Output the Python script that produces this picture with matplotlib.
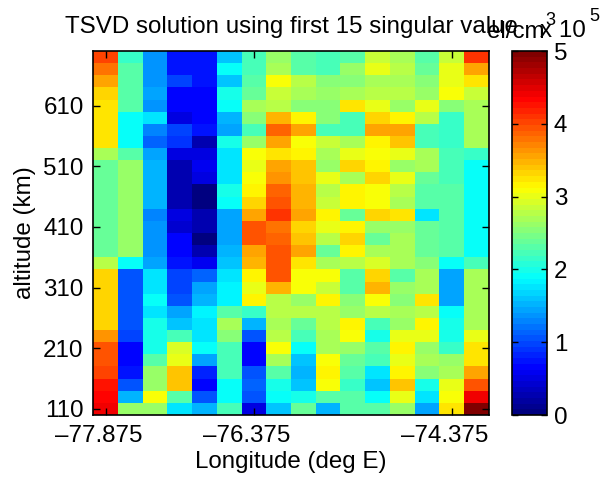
import numpy as np
import matplotlib
matplotlib.use("Agg")
import matplotlib.pyplot as plt
import matplotlib.transforms as mtransforms
from matplotlib.colors import LinearSegmentedColormap

plt.rcParams["font.family"] = ["Liberation Sans", "DejaVu Sans"]
FS = 17.4

# grid centres
longitude = np.arange(-77.875, -74.0, 0.25)      # 16 columns (deg E)
altitude = np.arange(690, 100, -20)               # 30 rows, top to bottom (km)

xtick_vals = [-77.875, -76.375, -74.375]
xtick_text = ["\u201377.875", "\u201376.375", "\u201374.375"]
ytick_vals = [110, 210, 310, 410, 510, 610]

# electron density, units of 1e5 el/cm^3, rows from 690 km down to 110 km
density = [
    [4.06, 2.11, 1.33, 0.78, 0.78, 1.64, 2.19, 2.64, 2.34, 2.19, 2.34, 2.89, 2.66, 2.34, 2.89, 4.14],
    [3.75, 2.27, 1.33, 0.78, 0.78, 1.88, 2.19, 2.66, 2.34, 2.19, 2.58, 2.97, 2.81, 2.42, 2.97, 3.52],
    [3.52, 2.27, 1.33, 0.94, 0.78, 1.64, 2.34, 3.05, 2.81, 2.50, 2.50, 2.73, 2.66, 2.50, 2.97, 3.24],
    [3.35, 2.27, 1.41, 0.70, 0.70, 2.03, 2.42, 2.89, 2.66, 2.58, 2.66, 2.81, 2.81, 2.58, 3.05, 2.89],
    [3.24, 2.27, 1.33, 0.70, 0.70, 1.88, 2.73, 2.81, 2.50, 2.50, 3.28, 2.97, 2.58, 2.97, 2.50, 2.66],
    [3.24, 1.88, 1.72, 0.47, 0.70, 1.56, 2.50, 3.48, 3.13, 2.50, 2.19, 3.31, 3.13, 2.81, 2.11, 2.66],
    [3.24, 1.88, 1.25, 0.94, 0.75, 1.48, 2.19, 3.83, 3.52, 2.19, 2.19, 3.59, 3.52, 2.19, 2.11, 2.66],
    [3.24, 1.88, 1.17, 0.86, 0.24, 2.03, 2.58, 3.52, 3.05, 2.89, 2.73, 3.13, 3.40, 2.19, 2.11, 2.66],
    [2.73, 2.34, 1.48, 0.50, 0.50, 1.72, 3.05, 3.28, 3.13, 2.73, 2.97, 3.05, 3.01, 2.73, 2.19, 2.11],
    [2.42, 2.58, 1.56, 0.24, 0.55, 1.76, 2.97, 3.59, 3.40, 2.58, 3.31, 3.13, 2.58, 2.73, 2.19, 1.88],
    [2.42, 2.58, 1.56, 0.24, 0.47, 1.76, 3.05, 3.67, 3.40, 3.01, 2.73, 3.35, 2.97, 2.42, 2.19, 1.88],
    [2.42, 2.58, 1.56, 0.24, 0.00, 2.03, 3.13, 3.83, 3.48, 2.81, 3.13, 3.05, 2.81, 2.34, 2.27, 1.88],
    [2.42, 2.58, 1.56, 0.24, 0.00, 1.88, 3.35, 3.91, 3.48, 2.89, 3.13, 3.05, 2.66, 2.34, 2.27, 1.88],
    [2.42, 2.58, 1.25, 0.50, 0.24, 1.41, 3.59, 4.14, 3.55, 3.13, 2.42, 3.31, 3.24, 1.76, 2.27, 1.88],
    [2.42, 2.58, 1.33, 0.42, 0.24, 1.41, 3.91, 3.75, 3.35, 2.97, 3.13, 2.58, 2.58, 2.42, 2.27, 1.88],
    [2.42, 2.58, 1.33, 0.70, 0.00, 1.48, 3.98, 3.83, 3.40, 2.81, 3.31, 2.42, 2.73, 2.42, 2.27, 1.88],
    [2.42, 2.58, 1.33, 0.70, 0.31, 1.56, 3.59, 3.98, 3.52, 2.42, 3.13, 2.73, 2.73, 2.42, 2.27, 1.88],
    [2.81, 1.95, 1.45, 0.78, 0.55, 1.64, 3.44, 3.98, 3.24, 2.66, 2.81, 2.93, 2.66, 2.50, 1.88, 2.19],
    [3.35, 1.02, 1.72, 0.94, 1.17, 1.72, 3.13, 3.91, 3.05, 3.05, 2.27, 3.31, 2.34, 2.73, 1.41, 2.73],
    [3.35, 1.02, 1.72, 0.94, 1.45, 1.80, 3.01, 3.48, 3.05, 2.89, 2.27, 3.44, 2.58, 2.73, 1.41, 2.73],
    [3.35, 1.02, 1.88, 1.09, 1.52, 1.80, 3.13, 2.81, 2.58, 3.13, 2.50, 3.05, 2.50, 3.24, 1.41, 2.73],
    [3.35, 1.09, 1.76, 1.45, 1.80, 2.27, 2.11, 2.81, 2.81, 2.81, 2.58, 2.81, 2.66, 2.81, 1.88, 2.73],
    [3.35, 1.09, 2.03, 1.60, 1.72, 2.73, 1.56, 2.70, 2.42, 2.81, 3.13, 2.19, 2.58, 3.13, 2.03, 2.73],
    [3.63, 0.94, 2.03, 2.19, 1.72, 2.50, 1.09, 2.81, 2.19, 2.73, 3.05, 2.03, 2.97, 2.97, 2.03, 3.01],
    [3.98, 0.63, 2.03, 2.93, 1.88, 2.19, 0.70, 3.05, 1.88, 2.73, 2.58, 2.27, 3.13, 2.58, 2.11, 3.28],
    [3.98, 0.66, 2.34, 3.01, 1.45, 2.19, 0.70, 2.73, 1.60, 3.05, 2.42, 2.19, 3.01, 2.73, 2.58, 3.28],
    [4.06, 0.75, 2.58, 3.40, 0.82, 2.19, 1.02, 2.27, 1.52, 3.13, 2.27, 1.72, 3.13, 2.50, 2.66, 3.55],
    [4.26, 1.02, 2.58, 3.40, 0.66, 1.95, 1.17, 2.03, 1.60, 3.05, 2.11, 1.60, 3.40, 2.03, 2.97, 3.91],
    [4.30, 1.56, 3.05, 2.34, 1.09, 1.95, 1.02, 1.88, 2.03, 2.34, 2.27, 1.95, 3.01, 1.76, 3.05, 4.38],
    [4.38, 2.58, 2.58, 1.76, 1.56, 2.19, 0.47, 1.64, 2.38, 1.56, 2.27, 2.34, 2.58, 1.41, 3.24, 5.00],
]

# MATLAB style jet with 64 levels
jet64 = LinearSegmentedColormap.from_list(
    "mjet",
    [(0.0, (0, 0, 0.5)), (0.125, (0, 0, 1)), (0.375, (0, 1, 1)),
     (0.625, (1, 1, 0)), (0.875, (1, 0, 0)), (1.0, (0.5, 0, 0))],
    N=64,
)

W, H = 606, 482
fig = plt.figure(figsize=(W / 100, H / 100), dpi=100)
ax = fig.add_axes([93.3 / W, 1 - 415 / H, 395.4 / W, 364 / H])
cax = fig.add_axes([511.7 / W, 1 - 415 / H, 35 / W, 364 / H])

mesh = ax.pcolormesh(longitude, altitude, np.array(density), shading="nearest",
                     cmap=jet64, vmin=0, vmax=5)

ax.set_xticks(xtick_vals)
ax.set_xticklabels(xtick_text)
ax.set_yticks(ytick_vals)
ax.tick_params(direction="in", top=True, right=True, length=5, width=1,
               labelsize=FS, pad=7)
for s in ax.spines.values():
    s.set_linewidth(1.2)

# the original's longitude labels sit a little left of their ticks
shift = mtransforms.ScaledTranslation(-0.07, 0, fig.dpi_scale_trans)
for lbl in ax.get_xticklabels():
    lbl.set_transform(lbl.get_transform() + shift)

ax.set_xlabel("Longitude (deg E)", fontsize=FS, labelpad=3)
ax.set_ylabel("altitude (km)", fontsize=FS, labelpad=5)
ax.set_title("TSVD solution using first 15 singular value", fontsize=FS, pad=13)

cb = fig.colorbar(mesh, cax=cax, ticks=[0, 1, 2, 3, 4, 5])
cax.tick_params(direction="in", left=True, right=True, length=4, width=1,
                labelsize=FS, pad=5)
cb.outline.set_linewidth(1.2)

# colorbar unit and exponent, overlapping as in the original
fig.text(487 / W, 1 - 38 / H, "el/cm", fontsize=FS, ha="left", va="baseline")
fig.text(545 / W, 1 - 25 / H, "3", fontsize=FS * 0.75, ha="left", va="baseline")
fig.text(540 / W, 1 - 37 / H, "x 10", fontsize=FS, ha="left", va="baseline")
fig.text(589 / W, 1 - 21 / H, "5", fontsize=FS * 0.75, ha="left", va="baseline")

fig.savefig("out.png", dpi=100)
